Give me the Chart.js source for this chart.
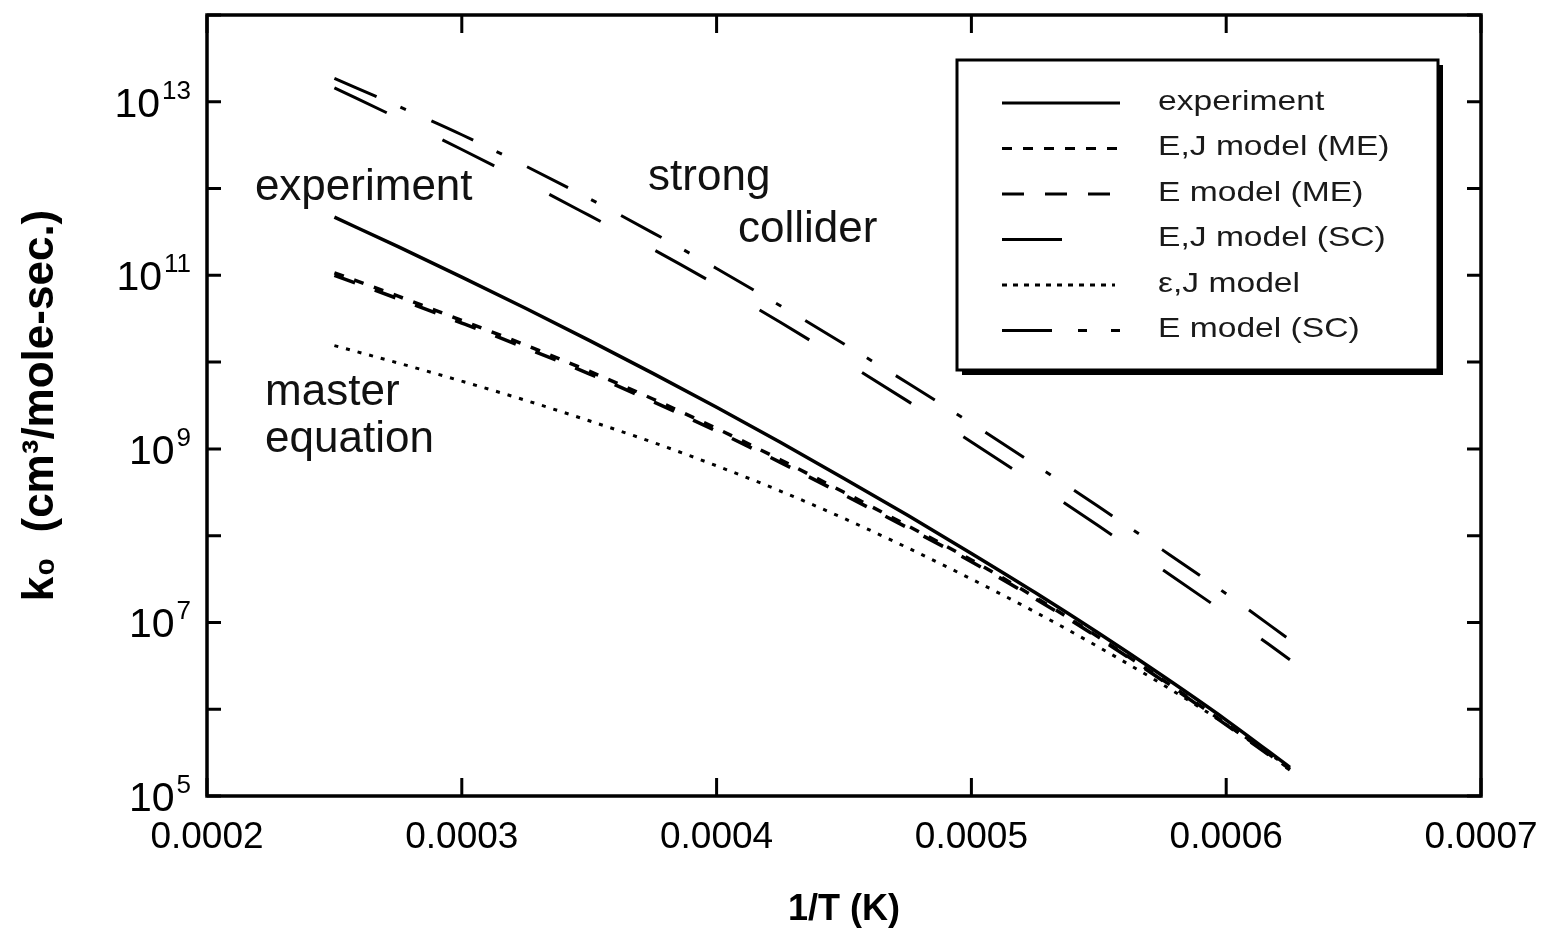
<!DOCTYPE html>
<html>
<head>
<meta charset="utf-8">
<script src="https://cdn.jsdelivr.net/npm/chart.js@4.4.0/dist/chart.umd.min.js"></script>
<style>
  html, body { margin: 0; padding: 0; background: #fff; }
  #chart { display: block; }
</style>
</head>
<body>
<canvas id="chart" width="1543" height="928"></canvas>
<script>
// 1/T (1/K) shared by every curve
var invT = [0.00025, 0.000275, 0.0003, 0.000325, 0.00035, 0.000375, 0.0004, 0.000425,
            0.00045, 0.000475, 0.0005, 0.000525, 0.00055, 0.000575, 0.0006, 0.000625];

// k0 values, cm3/mole-sec
var experiment = [4.68e11, 2.14e11, 9.55e10, 4.17e10, 1.78e10, 7.41e9, 3.02e9, 1.19e9,
                  4.57e8, 1.72e8, 6.24e7, 2.21e7, 7.50e6, 2.43e6, 7.50e5, 2.14e5];
var ejModelME  = [1.07e11, 5.75e10, 3.02e10, 1.57e10, 7.85e9, 3.76e9, 1.72e9, 7.50e8,
                  3.16e8, 1.30e8, 5.25e7, 1.95e7, 6.76e6, 2.19e6, 6.76e5, 2.04e5];
var eModelME   = [1.00e11, 5.37e10, 2.82e10, 1.46e10, 7.33e9, 3.51e9, 1.60e9, 7.00e8,
                  2.95e8, 1.23e8, 5.01e7, 1.88e7, 6.61e6, 2.14e6, 6.61e5, 2.00e5];
var ejModelSC  = [1.45e13, 6.46e12, 2.82e12, 1.19e12, 4.90e11, 2.00e11, 7.76e10, 2.88e10,
                  1.02e10, 3.55e9, 1.20e9, 3.98e8, 1.29e8, 4.07e7, 1.26e7, 3.72e6];
var epsJModel  = [1.55e10, 9.77e9, 6.03e9, 3.63e9, 2.11e9, 1.19e9, 6.38e8, 3.27e8,
                  1.58e8, 7.24e7, 3.16e7, 1.32e7, 5.19e6, 1.93e6, 6.68e5, 2.11e5];
var eModelSC   = [1.86e13, 8.91e12, 4.17e12, 1.82e12, 7.67e11, 3.09e11, 1.20e11, 4.47e10,
                  1.62e10, 5.75e9, 1.97e9, 6.58e8, 2.15e8, 6.86e7, 2.14e7, 6.31e6];

var xTickValues = [0.0002, 0.0003, 0.0004, 0.0005, 0.0006, 0.0007];
var xTickLabels = ['0.0002', '0.0003', '0.0004', '0.0005', '0.0006', '0.0007'];
var yTickValues = [1e5, 1e6, 1e7, 1e8, 1e9, 1e10, 1e11, 1e12, 1e13, 1e14];
// labelled decades: "10" with the exponent written as a superscript
var yTickExps = ['5', '', '7', '', '9', '', '11', '', '13', ''];

// free text written inside the plot, placed in data coordinates
var notes = [
  { text: 'experiment', x: 0.0002188, y: 7.41e11 },
  { text: 'strong',     x: 0.0003731, y: 9.55e11 },
  { text: 'collider',   x: 0.0004084, y: 2.43e11 },
  { text: 'master',     x: 0.0002228, y: 3.21e9 },
  { text: 'equation',   x: 0.0002228, y: 9.23e8 }
];

function pts(vals) {
  return invT.map(function(x, i) { return { x: x, y: vals[i] }; });
}

function line(label, vals, dash, width) {
  return {
    label: label,
    data: pts(vals),
    borderColor: '#000',
    borderWidth: width,
    borderDash: dash,
    borderCapStyle: 'butt',
    pointRadius: 0,
    pointHitRadius: 0,
    fill: false,
    cubicInterpolationMode: 'monotone'
  };
}

// dash patterns used for the samples in the boxed legend
var legendDash = [[], [10, 11], [22, 21], [60, 80], [5, 6], [50, 26, 9, 24, 9, 30]];
var legendLen = [118, 118, 108, 60, 113, 118];

var FONT = '"Liberation Sans", Arial, sans-serif';

var frameTicks = {
  id: 'frameTicks',
  afterDatasetsDraw: function(chart) {
    var ctx = chart.ctx, a = chart.chartArea;
    var xs = chart.scales.x, ys = chart.scales.y;
    ctx.save();
    ctx.strokeStyle = '#000';
    ctx.lineWidth = 3;
    ctx.beginPath();
    xs.ticks.forEach(function(t) {
      var px = xs.getPixelForValue(t.value);
      ctx.moveTo(px, a.bottom); ctx.lineTo(px, a.bottom - 18);
      ctx.moveTo(px, a.top); ctx.lineTo(px, a.top + 18);
    });
    ys.ticks.forEach(function(t) {
      var py = ys.getPixelForValue(t.value);
      ctx.moveTo(a.left, py); ctx.lineTo(a.left + 14, py);
      ctx.moveTo(a.right, py); ctx.lineTo(a.right - 14, py);
    });
    ctx.stroke();
    ctx.lineWidth = 3.5;
    ctx.strokeRect(a.left, a.top, a.right - a.left, a.bottom - a.top);

    // y tick labels: 10 plus a raised exponent
    ctx.fillStyle = '#000';
    ctx.textBaseline = 'alphabetic';
    ys.ticks.forEach(function(t, i) {
      var e = yTickExps[i];
      if (!e) return;
      var py = ys.getPixelForValue(t.value);
      ctx.font = '26px ' + FONT;
      ctx.textAlign = 'right';
      var ew = ctx.measureText(e).width;
      var right = a.left - 16;
      ctx.fillText(e, right, py - 3);
      ctx.font = '41px ' + FONT;
      ctx.fillText('10', right - ew - 2, py + 15);
    });
    ctx.restore();
  }
};

var plotNotes = {
  id: 'plotNotes',
  afterDatasetsDraw: function(chart) {
    var ctx = chart.ctx, xs = chart.scales.x, ys = chart.scales.y;
    ctx.save();
    ctx.fillStyle = '#111';
    ctx.font = '44px ' + FONT;
    ctx.textAlign = 'left';
    ctx.textBaseline = 'alphabetic';
    notes.forEach(function(n) {
      ctx.fillText(n.text, xs.getPixelForValue(n.x), ys.getPixelForValue(n.y));
    });
    ctx.restore();
  }
};

var boxLegend = {
  id: 'boxLegend',
  afterDraw: function(chart) {
    var ctx = chart.ctx, a = chart.chartArea;
    var left = a.right - 524, top = a.top + 45, w = 481, h = 310;
    ctx.save();
    ctx.fillStyle = '#000';
    ctx.fillRect(left + 5, top + 5, w, h);
    ctx.fillStyle = '#fff';
    ctx.fillRect(left, top, w, h);
    ctx.strokeStyle = '#000';
    ctx.lineWidth = 3;
    ctx.strokeRect(left, top, w, h);

    chart.data.datasets.forEach(function(ds, i) {
      var y = top + 43 + i * 45.5;
      ctx.beginPath();
      ctx.setLineDash(legendDash[i]);
      ctx.lineWidth = 3;
      ctx.moveTo(left + 45, y);
      ctx.lineTo(left + 45 + legendLen[i], y);
      ctx.stroke();
      ctx.setLineDash([]);

      ctx.save();
      ctx.translate(left + 201, y - 1);
      ctx.scale(1.2, 1);
      ctx.fillStyle = '#1a1a1a';
      ctx.font = '28px ' + FONT;
      ctx.textAlign = 'left';
      ctx.textBaseline = 'middle';
      ctx.fillText(ds.label, 0, 0);
      ctx.restore();
    });
    ctx.restore();
  }
};

Chart.defaults.font.family = FONT;
Chart.defaults.color = '#000';

new Chart(document.getElementById('chart').getContext('2d'), {
  type: 'line',
  data: {
    datasets: [
      line('experiment', experiment, [], 3.5),
      line('E,J model (ME)', ejModelME, [10, 11], 3.5),
      line('E model (ME)', eModelME, [22, 21], 3.5),
      line('E,J model (SC)', ejModelSC, [58, 62], 3),
      line('\u03b5,J model', epsJModel, [4, 8], 3),
      line('E model (SC)', eModelSC, [46, 26, 6, 28], 3)
    ]
  },
  options: {
    responsive: false,
    animation: false,
    layout: { padding: { top: 15, right: 62, left: 0, bottom: 0 } },
    plugins: {
      legend: { display: false },
      tooltip: { enabled: false }
    },
    scales: {
      x: {
        type: 'linear',
        min: 0.0002,
        max: 0.0007,
        afterBuildTicks: function(s) {
          s.ticks = xTickValues.map(function(v) { return { value: v }; });
        },
        afterFit: function(s) {
          s.height = 132;
          s.paddingLeft = 0;
          s.paddingRight = 0;
        },
        grid: { display: false, drawTicks: false },
        border: { display: false },
        ticks: {
          autoSkip: false,
          maxRotation: 0,
          padding: 20,
          font: { size: 37 },
          callback: function(v, i) { return xTickLabels[i]; }
        },
        title: {
          display: true,
          text: '1/T (K)',
          font: { size: 36, weight: 'bold', lineHeight: 1 },
          padding: { top: 0, bottom: 0 }
        }
      },
      y: {
        type: 'logarithmic',
        min: 1e5,
        max: 1e14,
        afterBuildTicks: function(s) {
          s.ticks = yTickValues.map(function(v) { return { value: v }; });
        },
        afterFit: function(s) {
          s.width = 207;
          s.paddingTop = 0;
          s.paddingBottom = 0;
        },
        grid: { display: false, drawTicks: false },
        border: { display: false },
        ticks: {
          autoSkip: false,
          padding: 17,
          font: { size: 40 },
          callback: function() { return ''; }
        },
        title: {
          display: true,
          text: 'k\u2080  (cm\u00b3/mole-sec.)',
          font: { size: 44, weight: 'bold' },
          padding: { top: 14, bottom: 0 }
        }
      }
    }
  },
  plugins: [frameTicks, plotNotes, boxLegend]
});
</script>
</body>
</html>
